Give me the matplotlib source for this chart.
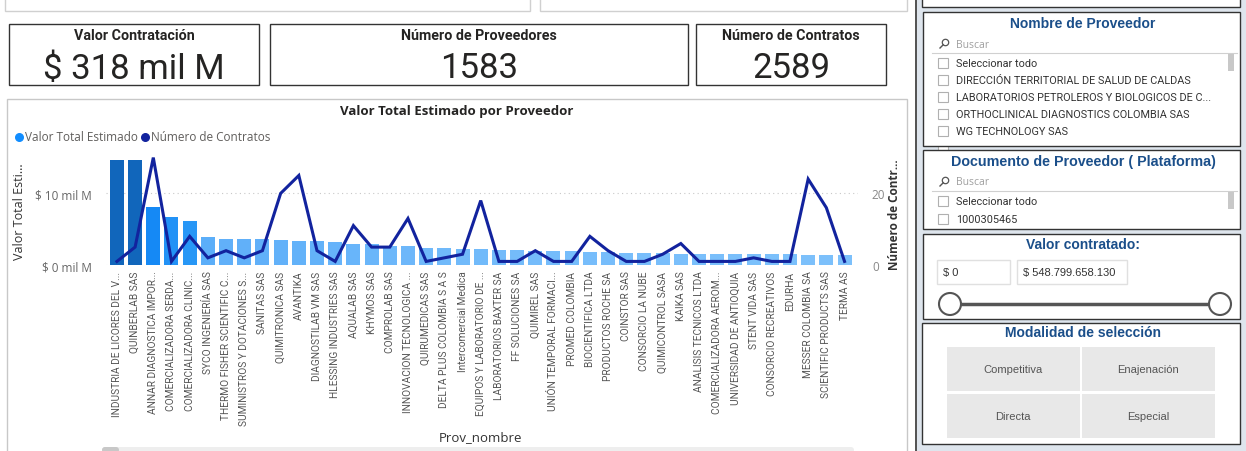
import matplotlib
matplotlib.use("Agg")
import matplotlib.pyplot as plt
import matplotlib.patches as patches
from matplotlib.colors import LinearSegmentedColormap
from matplotlib.ticker import FuncFormatter

W, H = 1246, 452

proveedores = [
    "INDUSTRIA DE LICORES DEL V...", "QUINBERLAB SAS", "ANNAR DIAGNOSTICA IMPOR...",
    "COMERCIALIZADORA SERDA...", "COMERCIALIZADORA CLINIC...", "SYCO INGENIERÍA SAS",
    "THERMO FISHER SCIENTIFIC C...", "SUMINISTROS Y DOTACIONES S...", "SANITAS SAS",
    "QUIMITRONICA SAS", "AVANTIKA", "DIAGNOSTILAB VM SAS", "HLESSING INDUSTRIES SAS",
    "AQUALAB SAS", "KHYMOS SAS", "COMPROLAB SAS", "INNOVACION TECNOLOGICA ...",
    "QUIRUMEDICAS SAS", "DELTA PLUS COLOMBIA S A S", "Intercomercial Medica",
    "EQUIPOS Y LABORATORIO DE ...", "LABORATORIOS BAXTER SA", "FF SOLUCIONES SA",
    "QUIMIREL SAS", "UNIÓN TEMPORAL FORMACI...", "PROMED COLOMBIA", "BIOCIENTIFICA LTDA",
    "PRODUCTOS ROCHE SA", "COINSTOR SAS", "CONSORCIO LA NUBE", "QUIMICONTROL SASA",
    "KAIKA SAS", "ANALISIS TECNICOS LTDA", "COMERCIALIZADORA AEROM...",
    "UNIVERSIDAD DE ANTIOQUIA", "STENT VIDA SAS", "CONSORCIO RECREATIVOS", "EDURHA",
    "MESSER COLOMBIA SA", "SCIENTIFIC PRODUCTS SAS", "TERMA AS",
]
# valor total estimado, miles de millones
valor_total = [14.7, 14.6, 8.1, 6.7, 6.1, 3.9, 3.6, 3.6, 3.6, 3.5, 3.4, 3.4, 3.2, 3.0,
               2.9, 2.7, 2.6, 2.4, 2.4, 2.3, 2.3, 2.1, 2.1, 2.0, 2.0, 1.9, 1.8, 1.8,
               1.7, 1.7, 1.7, 1.6, 1.6, 1.6, 1.6, 1.5, 1.5, 1.5, 1.4, 1.4, 1.4]
num_contratos = [1, 5, 30, 1, 8, 2, 4, 2, 4, 20, 25, 4, 1, 11, 5, 5, 13, 1, 2, 3, 18,
                 1, 1, 4, 1, 1, 8, 4, 1, 1, 3, 6, 1, 1, 1, 2, 1, 1, 24, 16, 1]

kpi_titulos = ["Valor Contratación", "Número de Proveedores", "Número de Contratos"]
kpi_valores = ["$ 318 mil M", "1583", "2589"]

slicer_nombres = ["Seleccionar todo", "DIRECCIÓN TERRITORIAL DE SALUD DE CALDAS",
                  "LABORATORIOS PETROLEROS Y BIOLOGICOS DE C...",
                  "ORTHOCLINICAL DIAGNOSTICS COLOMBIA SAS", "WG TECHNOLOGY SAS"]
slicer_docs = ["Seleccionar todo", "1000305465"]
rango_valor = ["$ 0", "$ 548.799.658.130"]
modalidades = ["Competitiva", "Enajenación", "Directa", "Especial"]

NARROW = ["Roboto", "DejaVu Sans"]
SANS = ["Open Sans", "DejaVu Sans"]
ARIAL = ["Liberation Sans", "DejaVu Sans"]
TITLE_BLUE = "#1B4F8A"

fig = plt.figure(figsize=(W / 100, H / 100), dpi=100)
fig.patch.set_facecolor("white")

# background canvas in pixel coordinates
bg = fig.add_axes([0, 0, 1, 1], zorder=0)
bg.set_xlim(0, W)
bg.set_ylim(H, 0)
bg.axis("off")


def box(x, y, w, h, fc="white", ec="#404040", lw=1.0, z=1):
    bg.add_patch(patches.Rectangle((x, y), w, h, facecolor=fc, edgecolor=ec, lw=lw, zorder=z))


def txt(x, y, s, **kw):
    kw.setdefault("ha", "center")
    kw.setdefault("va", "center")
    bg.text(x, y, s, **kw)


def lupa(x, y):
    # small search icon
    bg.add_patch(patches.Circle((x + 1.5, y - 1.5), 3.2, fc="none", ec="#555555", lw=0.9, zorder=3))
    bg.plot([x - 0.8, x - 4], [y + 0.8, y + 4], color="#555555", lw=1.0, zorder=3)


# top partial cards
box(5, -20, 525, 32, ec="#D0D0D0")
box(540, -20, 367, 32, ec="#D0D0D0")

# KPI cards
cards = [(9, 250), (270, 418), (696, 190)]
for (cx, cw), t, v in zip(cards, kpi_titulos, kpi_valores):
    box(cx, 25, cw, 61, ec="#333333")
    txt(cx + cw / 2, 36, t, fontsize=10.3, fontweight="bold", family=NARROW, color="#252423")
    txt(cx + cw / 2, 69, v, fontsize=25, family=NARROW, color="#252423")

# chart container
box(7, 100, 900, 380, ec="#C8C8C8")
txt(457, 111, "Valor Total Estimado por Proveedor", fontsize=9.5, fontweight="bold",
    family=SANS, color="#252423")
bg.scatter([19], [138], s=30, color="#118DFF", zorder=3)
txt(25, 138, "Valor Total Estimado", ha="left", fontsize=8.5, family=SANS, color="#605E5C")
bg.scatter([145], [138], s=30, color="#12239E", zorder=3)
txt(151, 138, "Número de Contratos", ha="left", fontsize=8.5, family=SANS, color="#605E5C")
txt(20, 212, "Valor Total Esti...", rotation=90, fontsize=9, family=SANS, color="#333333")
txt(895, 215, "Número de Contr...", rotation=90, fontsize=8.5, fontweight="bold",
    family=SANS, color="#333333")
txt(480, 438, "Prov_nombre", fontsize=9.5, family=SANS, color="#333333")
bg.add_patch(patches.FancyBboxPatch((102, 448), 752, 6, boxstyle="round,pad=0,rounding_size=3",
                                    fc="#EEEEEE", ec="none", zorder=2))
bg.add_patch(patches.FancyBboxPatch((102, 448), 17, 6, boxstyle="round,pad=0,rounding_size=3",
                                    fc="#C8C8C8", ec="none", zorder=3))

# right panel
bg.add_patch(patches.Rectangle((917, 0), W - 917, H, fc="#DEE5ED", ec="none", zorder=0.5))
bg.plot([916, 916], [0, H], color="#333333", lw=1.2, zorder=1)
box(922, -20, 318, 28, ec="#333333")

# slicer: Nombre de Proveedor
box(923, 13, 317, 134, ec="#333333")
txt(1083, 24, "Nombre de Proveedor", fontsize=10, fontweight="bold", family=ARIAL, color=TITLE_BLUE)
lupa(944, 45)
txt(956, 45, "Buscar", ha="left", fontsize=7.5, family=SANS, color="#A0A0A0")
bg.plot([932, 1237], [54, 54], color="#D0D0D0", lw=0.8, zorder=2)
bg.add_patch(patches.Rectangle((1228, 55), 6, 17, fc="#C8C8C8", ec="none", zorder=2))
for i, s in enumerate(slicer_nombres):
    yy = 64 + i * 17
    box(938, yy - 5, 10, 10, ec="#B0B0B0", lw=0.8, z=2)
    txt(956, yy, s, ha="left", fontsize=7.8, family=NARROW, color="#333333")
box(938, 142, 10, 10, ec="#B0B0B0", lw=0.8, z=0.8)

# slicer: Documento de Proveedor
box(923, 151, 317, 79, ec="#333333")
txt(1083, 162, "Documento de Proveedor ( Plataforma)", fontsize=10.3, fontweight="bold",
    family=ARIAL, color=TITLE_BLUE)
lupa(944, 183)
txt(956, 183, "Buscar", ha="left", fontsize=7.5, family=SANS, color="#A0A0A0")
bg.plot([932, 1237], [192, 192], color="#D0D0D0", lw=0.8, zorder=2)
bg.add_patch(patches.Rectangle((1228, 193), 6, 17, fc="#C8C8C8", ec="none", zorder=2))
for i, s in enumerate(slicer_docs):
    yy = 202 + i * 18
    box(938, yy - 5, 10, 10, ec="#B0B0B0", lw=0.8, z=2)
    txt(956, yy, s, ha="left", fontsize=7.8, family=NARROW, color="#333333")

# slicer: Valor contratado
box(923, 235, 317, 85, ec="#333333")
txt(1083, 245, "Valor contratado:", fontsize=10, fontweight="bold", family=ARIAL, color=TITLE_BLUE)
box(937, 261, 73, 24, ec="#E0E0E0", z=2)
txt(943, 273, rango_valor[0], ha="left", fontsize=8, family=ARIAL, color="#333333")
box(1017, 261, 110, 24, ec="#E0E0E0", z=2)
txt(1023, 273, rango_valor[1], ha="left", fontsize=8, family=ARIAL, color="#333333")
bg.plot([950, 1220], [305, 305], color="#555555", lw=2.5, zorder=2)
for cx in (950, 1220):
    bg.add_patch(patches.Circle((cx, 305), 11, fc="white", ec="#555555", lw=1.5, zorder=3))

# slicer: Modalidad de seleccion
box(922, 324, 318, 121, ec="#333333")
txt(1083, 333, "Modalidad de selección", fontsize=10, fontweight="bold", family=ARIAL, color=TITLE_BLUE)
for i, s in enumerate(modalidades):
    bx = 947 + (i % 2) * 135
    by = 348 + (i // 2) * 47
    box(bx, by, 133, 44, fc="#E8E8E8", ec="none", z=2)
    txt(bx + 66, by + 22, s, fontsize=8, family=ARIAL, color="#555555")

# main combo chart
ax = fig.add_axes([106 / W, 1 - 266 / H, (858 - 106) / W, (266 - 150) / H], zorder=2)
ax.set_facecolor("none")
cmap = LinearSegmentedColormap.from_list(
    "pbi", [(0.0, "#7CC0FB"), (0.18, "#5EAFF9"), (0.35, "#2897F6"),
            (0.5, "#1589F5"), (1.0, "#1166BB")])
vmin, vmax = min(valor_total), max(valor_total)
colors = [cmap((v - vmin) / (vmax - vmin)) for v in valor_total]
x = range(len(proveedores))
ax.bar(x, valor_total, width=0.77, color=colors, zorder=2)
ax.set_xlim(-0.6, len(proveedores) - 0.26)
ax.set_ylim(0, 16.2)
ax.set_yticks([0, 10])
ax.yaxis.set_major_formatter(FuncFormatter(lambda v, p: f"$ {v:.0f} mil M"))
ax.grid(axis="y", linestyle=(0, (1, 3)), color="#C8C8C8", lw=0.8, zorder=0)
ax.set_xticks(list(x))
ax.set_xticklabels(proveedores, rotation=90, fontsize=7.3, family=NARROW, color="#555555")
ax.tick_params(axis="both", length=0, pad=4)
ax.tick_params(axis="y", labelsize=8.5, labelcolor="#666666", pad=10)
for lab in ax.get_yticklabels():
    lab.set_family(SANS)
for sp in ax.spines.values():
    sp.set_visible(False)

ax2 = ax.twinx()
ax2.plot(list(x), num_contratos, color="#12239E", lw=2.2, zorder=3, solid_joinstyle="miter")
ax2.set_ylim(0, 32.4)
ax2.set_yticks([0, 20])
ax2.tick_params(axis="y", length=0, labelsize=8.5, labelcolor="#888888", pad=10)
for lab in ax2.get_yticklabels():
    lab.set_family(SANS)
for sp in ax2.spines.values():
    sp.set_visible(False)

fig.savefig("out.png", dpi=100)
